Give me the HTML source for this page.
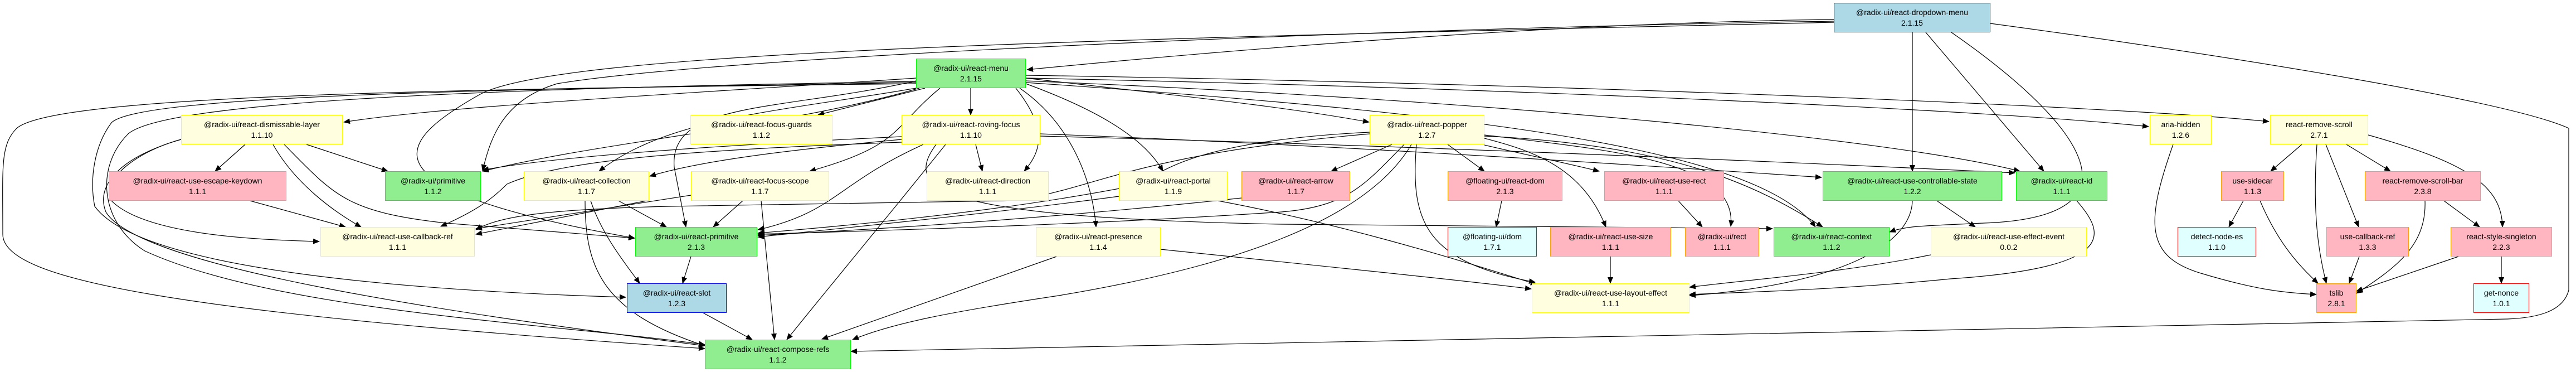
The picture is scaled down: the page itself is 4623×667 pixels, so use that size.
<!DOCTYPE html>
<html><head><meta charset="utf-8"><style>
html,body{margin:0;padding:0;background:#fff}
#c{position:relative;width:4623px;height:667px;overflow:hidden}
svg{position:absolute;left:0;top:0}
.n{position:absolute;height:53px;box-sizing:border-box;border:1px solid;font-family:"Liberation Sans",Arial,sans-serif;font-size:14px;line-height:19px;text-align:center;color:#000;display:flex;flex-direction:column;justify-content:center;white-space:nowrap}
.y{background:#ffffe0;border-color:#ffff00}
.g{background:#90ee90;border-color:#00ff00}
.p{background:#ffb6c1;border-color:#ffa500}
.b{background:#add8e6;border-color:#0000ff}
.c{background:#e0ffff;border-color:#ff0000}
</style></head><body><div id="c">
<svg width="4623" height="667" viewBox="0 0 4623 667">
<defs><marker id="a" markerUnits="userSpaceOnUse" markerWidth="12" markerHeight="10" refX="11" refY="5" orient="auto"><path d="M0,0 L12,5 L0,10 z" fill="#000"/></marker></defs>
<g fill="none" stroke="#000" stroke-width="1.2" marker-end="url(#a)">
<path d="M3291,35 C2800,40 2200,90 1843,125"/>
<path d="M3291,38 C2500,50 1300,100 1000,150 C900,180 880,250 866,306"/>
<path d="M3291,40 C2000,70 1000,90 860,170 C700,260 650,340 1139,427"/>
<path d="M3432,58 L3432,307"/>
<path d="M3456,58 L3668,307"/>
<path d="M3502,58 C3750,230 3850,390 3560,400 C3450,405 3420,405 3391,416"/>
<path d="M3572,42 C4000,100 4500,180 4610,230 L4610,520 C4600,560 4550,570 4500,572 L1527,630"/>
<path d="M1644,140 C1200,170 800,190 617,219"/>
<path d="M1660,158 L1468,206"/>
<path d="M1742,158 L1742,206"/>
<path d="M1841,140 C2100,170 2300,190 2457,219"/>
<path d="M1650,158 C1400,230 1100,250 866,307"/>
<path d="M1644,158 C1400,200 1200,210 1075,307"/>
<path d="M1687,158 C1600,230 1620,260 1453,307"/>
<path d="M1823,158 C1880,230 1870,270 1838,307"/>
<path d="M1841,150 C1950,190 2050,240 2087,307"/>
<path d="M1830,158 C1920,220 1960,320 1967,407"/>
<path d="M1644,145 C1400,200 1200,180 1210,300 L1231,407"/>
<path d="M1644,150 C800,160 100,170 30,230 C0,260 5,300 5,420 C5,500 300,560 1265,625"/>
<path d="M1644,148 C900,160 250,170 200,220 C170,260 160,320 170,370 C250,480 700,520 1123,533"/>
<path d="M1644,146 C900,158 300,180 230,240 C170,300 180,400 260,450 C500,560 1000,580 1265,618"/>
<path d="M1841,135 C2800,150 3800,190 4072,218"/>
<path d="M1841,140 C2800,160 3600,200 3856,227"/>
<path d="M1841,145 C2700,180 3400,250 3625,307"/>
<path d="M1841,148 C2600,200 3150,260 3258,407"/>
<path d="M1751,259 L1763,307"/>
<path d="M1618,245 C1300,260 1000,280 866,305"/>
<path d="M1618,250 C1400,270 1250,290 1166,316"/>
<path d="M1657,259 C1500,330 1500,380 1360,412"/>
<path d="M1697,259 C1600,380 1500,500 1412,609"/>
<path d="M1618,255 C1200,270 1000,290 910,330 C880,360 850,380 791,406"/>
<path d="M1680,259 C1620,340 1680,390 2300,402 L3181,410"/>
<path d="M1867,240 C2400,260 3000,300 3269,318"/>
<path d="M1867,244 C2500,260 3200,290 3616,310"/>
<path d="M2498,259 L2389,307"/>
<path d="M2598,259 L2664,307"/>
<path d="M2664,260 C2750,280 2800,290 2870,307"/>
<path d="M2664,248 C2750,270 2840,300 2882,407"/>
<path d="M2664,242 C2900,270 3120,290 3106,406"/>
<path d="M2664,244 C3000,260 3150,330 3271,407"/>
<path d="M2458,237 C2200,250 2100,290 2050,330 C1900,360 1700,390 1360,418"/>
<path d="M2458,240 C2000,280 1950,350 1800,360 L1200,370 C1000,375 900,385 854,412"/>
<path d="M2542,259 C2530,400 2560,470 2755,506"/>
<path d="M2533,259 C2450,400 2200,480 1900,530 C1700,560 1600,580 1530,609"/>
<path d="M2520,259 C2450,330 2420,370 2300,380 C2000,400 1700,410 1360,420"/>
<path d="M1896,460 L1475,608"/>
<path d="M2083,447 C2400,480 2600,500 2748,518"/>
<path d="M2008,352 C1800,380 1600,400 1360,425"/>
<path d="M2186,360 C2400,400 2600,460 2758,510"/>
<path d="M2228,355 C1900,390 1600,410 1360,422"/>
<path d="M2695,360 L2685,407"/>
<path d="M3012,360 L3055,407"/>
<path d="M2890,460 L2890,508"/>
<path d="M1110,360 L1196,407"/>
<path d="M1060,360 C1080,420 1120,470 1148,508"/>
<path d="M1050,360 C1050,480 1080,560 1265,620"/>
<path d="M1333,360 L1280,407"/>
<path d="M1366,360 L1390,609"/>
<path d="M1240,350 L854,410"/>
<path d="M1160,360 L854,420"/>
<path d="M440,259 L386,307"/>
<path d="M550,259 L696,307"/>
<path d="M490,259 C530,330 600,380 648,407"/>
<path d="M510,259 C600,350 620,380 800,400 L1139,427"/>
<path d="M325,250 C220,280 170,330 190,380 C250,480 800,560 1265,620"/>
<path d="M325,250 C250,270 180,320 200,360 C260,420 450,430 573,433"/>
<path d="M449,360 L620,407"/>
<path d="M1240,460 L1225,508"/>
<path d="M1262,561 L1350,609"/>
<path d="M3476,360 L3545,407"/>
<path d="M3432,360 C3430,440 3300,510 3032,530"/>
<path d="M3465,457 C3300,490 3150,500 3032,515"/>
<path d="M3727,360 C3780,420 3800,480 3500,500 C3300,520 3100,525 3032,528"/>
<path d="M3900,259 C3850,400 3850,460 3950,490 C4050,520 4100,525 4157,528"/>
<path d="M4131,259 L4075,307"/>
<path d="M4158,259 C4150,380 4160,450 4175,508"/>
<path d="M4174,259 L4233,407"/>
<path d="M4211,259 L4290,307"/>
<path d="M4250,242 C4420,290 4490,330 4491,407"/>
<path d="M4026,360 L4000,407"/>
<path d="M4056,360 C4090,440 4130,480 4160,508"/>
<path d="M4352,360 C4355,440 4300,480 4229,526"/>
<path d="M4386,360 L4450,407"/>
<path d="M4234,460 L4216,508"/>
<path d="M4489,460 L4489,508"/>
<path d="M4412,460 L4229,522"/>
</g></svg>
<div class="n b" style="left:3291px;top:5px;width:281px">@radix-ui/react-dropdown-menu<br>2.1.15</div>
<div class="n g" style="left:1644px;top:105px;width:197px">@radix-ui/react-menu<br>2.1.15</div>
<div class="n y" style="left:325px;top:206px;width:290px">@radix-ui/react-dismissable-layer<br>1.1.10</div>
<div class="n y" style="left:1239px;top:206px;width:255px">@radix-ui/react-focus-guards<br>1.1.2</div>
<div class="n y" style="left:1618px;top:206px;width:249px">@radix-ui/react-roving-focus<br>1.1.10</div>
<div class="n y" style="left:2458px;top:206px;width:206px">@radix-ui/react-popper<br>1.2.7</div>
<div class="n y" style="left:3858px;top:206px;width:111px">aria-hidden<br>1.2.6</div>
<div class="n y" style="left:4074px;top:206px;width:176px">react-remove-scroll<br>2.7.1</div>
<div class="n p" style="left:195px;top:307px;width:319px">@radix-ui/react-use-escape-keydown<br>1.1.1</div>
<div class="n g" style="left:691px;top:307px;width:172px">@radix-ui/primitive<br>1.1.2</div>
<div class="n y" style="left:940px;top:307px;width:225px">@radix-ui/react-collection<br>1.1.7</div>
<div class="n y" style="left:1240px;top:307px;width:248px">@radix-ui/react-focus-scope<br>1.1.7</div>
<div class="n y" style="left:1663px;top:307px;width:219px">@radix-ui/react-direction<br>1.1.1</div>
<div class="n y" style="left:2008px;top:307px;width:195px">@radix-ui/react-portal<br>1.1.9</div>
<div class="n p" style="left:2228px;top:307px;width:195px">@radix-ui/react-arrow<br>1.1.7</div>
<div class="n p" style="left:2598px;top:307px;width:206px">@floating-ui/react-dom<br>2.1.3</div>
<div class="n p" style="left:2879px;top:307px;width:215px">@radix-ui/react-use-rect<br>1.1.1</div>
<div class="n g" style="left:3271px;top:307px;width:322px">@radix-ui/react-use-controllable-state<br>1.2.2</div>
<div class="n g" style="left:3618px;top:307px;width:164px">@radix-ui/react-id<br>1.1.1</div>
<div class="n p" style="left:3986px;top:307px;width:113px">use-sidecar<br>1.1.3</div>
<div class="n p" style="left:4244px;top:307px;width:208px">react-remove-scroll-bar<br>2.3.8</div>
<div class="n y" style="left:575px;top:407px;width:277px">@radix-ui/react-use-callback-ref<br>1.1.1</div>
<div class="n g" style="left:1140px;top:407px;width:219px">@radix-ui/react-primitive<br>2.1.3</div>
<div class="n y" style="left:1859px;top:407px;width:224px">@radix-ui/react-presence<br>1.1.4</div>
<div class="n c" style="left:2598px;top:407px;width:160px">@floating-ui/dom<br>1.7.1</div>
<div class="n p" style="left:2782px;top:407px;width:217px">@radix-ui/react-use-size<br>1.1.1</div>
<div class="n p" style="left:3024px;top:407px;width:133px">@radix-ui/rect<br>1.1.1</div>
<div class="n g" style="left:3183px;top:407px;width:208px">@radix-ui/react-context<br>1.1.2</div>
<div class="n y" style="left:3465px;top:407px;width:280px">@radix-ui/react-use-effect-event<br>0.0.2</div>
<div class="n c" style="left:3908px;top:407px;width:141px">detect-node-es<br>1.1.0</div>
<div class="n p" style="left:4175px;top:407px;width:148px">use-callback-ref<br>1.3.3</div>
<div class="n p" style="left:4398px;top:407px;width:182px">react-style-singleton<br>2.2.3</div>
<div class="n b" style="left:1125px;top:508px;width:179px">@radix-ui/react-slot<br>1.2.3</div>
<div class="n y" style="left:2749px;top:508px;width:283px">@radix-ui/react-use-layout-effect<br>1.1.1</div>
<div class="n p" style="left:4157px;top:508px;width:72px">tslib<br>2.8.1</div>
<div class="n c" style="left:4439px;top:508px;width:100px">get-nonce<br>1.0.1</div>
<div class="n g" style="left:1265px;top:609px;width:262px">@radix-ui/react-compose-refs<br>1.1.2</div>
</div></body></html>
